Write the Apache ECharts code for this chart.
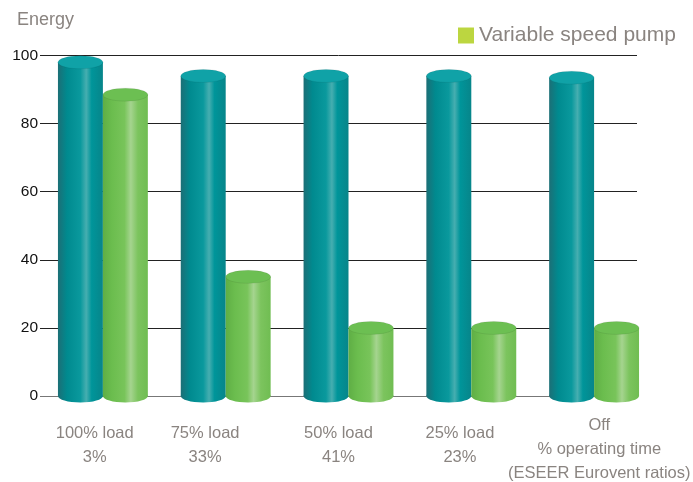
<!DOCTYPE html>
<html>
<head>
<meta charset="UTF-8">
<title>Energy</title>
<script src="https://cdn.jsdelivr.net/npm/echarts/dist/echarts.min.js"></script>
<style>
  html, body { margin: 0; padding: 0; background: #fff; }
  #chart { width: 693px; height: 482px; }
</style>
</head>
<body>
<div id="chart"></div>
<script>
const categories = ['100% load\n3%', '75% load\n33%', '50% load\n41%', '25% load\n23%', 'Off\n% operating time\n(ESEER Eurovent ratios)'];
const fixedSpeed = [98, 94, 94, 94, 93.5];
const variableSpeed = [88.5, 35, 20, 20, 20];
const yTicks = [0, 20, 40, 60, 80, 100];

const chart = echarts.init(document.getElementById('chart'));
const font = 'Liberation Sans';
const grey = '#8a8480';

// small nudges so the category labels sit where the original ones do
const labelShift = [-5, -14, 0, 2, 22];

function cylinder(stops, topColor, side) {
    return function (params, api) {
        const cat = api.value(0);
        const top = api.coord([cat, api.value(1)]);
        const base = api.coord([cat, 0]);
        const bw = api.size([1, 0])[0] * 0.366;
        const ry = 6.5;
        const x = side < 0 ? top[0] - bw : top[0];
        const grad = new echarts.graphic.LinearGradient(0, 0, 1, 0, stops);
        return {
            type: 'group',
            children: [
                { type: 'ellipse', shape: { cx: x + bw / 2, cy: base[1], rx: bw / 2, ry: ry }, style: { fill: grad } },
                { type: 'rect', shape: { x: x, y: top[1], width: bw, height: base[1] - top[1] }, style: { fill: grad } },
                { type: 'ellipse', shape: { cx: x + bw / 2, cy: top[1], rx: bw / 2, ry: ry },
                  style: { fill: topColor, stroke: 'rgba(0,0,0,0.12)', lineWidth: 0.6 } }
            ]
        };
    };
}

const tealStops = [
    { offset: 0, color: '#1c6f76' },
    { offset: 0.2, color: '#008a8f' },
    { offset: 0.5, color: '#0a999d' },
    { offset: 0.63, color: '#46aeb0' },
    { offset: 0.75, color: '#00959a' },
    { offset: 1, color: '#07858a' }
];
const greenStops = [
    { offset: 0, color: '#5fae45' },
    { offset: 0.2, color: '#6bbd4e' },
    { offset: 0.48, color: '#78c45a' },
    { offset: 0.62, color: '#a5d48f' },
    { offset: 0.78, color: '#7cc45e' },
    { offset: 1, color: '#70bd52' }
];

const option = {
    animation: false,
    textStyle: { fontFamily: font },
    title: {
        text: 'Energy',
        left: 12,
        top: 6,
        textStyle: { fontSize: 18, fontWeight: 'normal', color: grey, fontFamily: font }
    },
    legend: {
        data: ['Variable speed pump'],
        left: 453,
        top: 20,
        icon: 'rect',
        itemWidth: 16,
        itemHeight: 16,
        itemGap: 7,
        textStyle: { fontSize: 21, color: grey, fontFamily: font }
    },
    grid: [
        { left: 40, width: 597, top: 55.5, bottom: 86, outerBoundsMode: 'none' },
        { left: 41.5, width: 614, top: 55.5, bottom: 86, outerBoundsMode: 'none' }
    ],
    xAxis: [
        {
            type: 'category',
            gridIndex: 0,
            data: categories.map((c, i) => {
                const d = labelShift[i];
                const pad = c.split('\n').length > 2 ? 0 : 8;
                return {
                    value: c,
                    textStyle: { padding: [pad, d < 0 ? -2 * d : 0, 0, d > 0 ? 2 * d : 0] }
                };
            }),
            axisLine: { show: false },
            axisTick: { show: false },
            axisLabel: { color: grey, fontSize: 16.5, lineHeight: 24, margin: 17, interval: 0, fontFamily: font }
        },
        {
            type: 'category',
            gridIndex: 1,
            data: categories,
            show: false
        }
    ],
    yAxis: [
        {
            type: 'value',
            gridIndex: 0,
            min: yTicks[0],
            max: yTicks[yTicks.length - 1],
            interval: 20,
            axisLine: { show: false },
            axisTick: { show: false },
            axisLabel: { color: '#111', fontSize: 15.5, margin: 2, fontFamily: font },
            splitLine: { lineStyle: { color: ['#777', '#222', '#222', '#222', '#222', '#222'], width: 1 } }
        },
        {
            type: 'value',
            gridIndex: 1,
            min: yTicks[0],
            max: yTicks[yTicks.length - 1],
            show: false
        }
    ],
    series: [
        {
            name: 'Fixed speed pump',
            type: 'custom',
            xAxisIndex: 1,
            yAxisIndex: 1,
            itemStyle: { color: '#0a999d' },
            renderItem: cylinder(tealStops, '#10a2a7', -1),
            data: fixedSpeed.map((v, i) => [i, v]),
            z: 3
        },
        {
            name: 'Variable speed pump',
            type: 'custom',
            xAxisIndex: 1,
            yAxisIndex: 1,
            itemStyle: { color: '#bcd640' },
            renderItem: cylinder(greenStops, '#6cbf52', 1),
            data: variableSpeed.map((v, i) => [i, v]),
            z: 4
        }
    ]
};

chart.setOption(option);
</script>
</body>
</html>
